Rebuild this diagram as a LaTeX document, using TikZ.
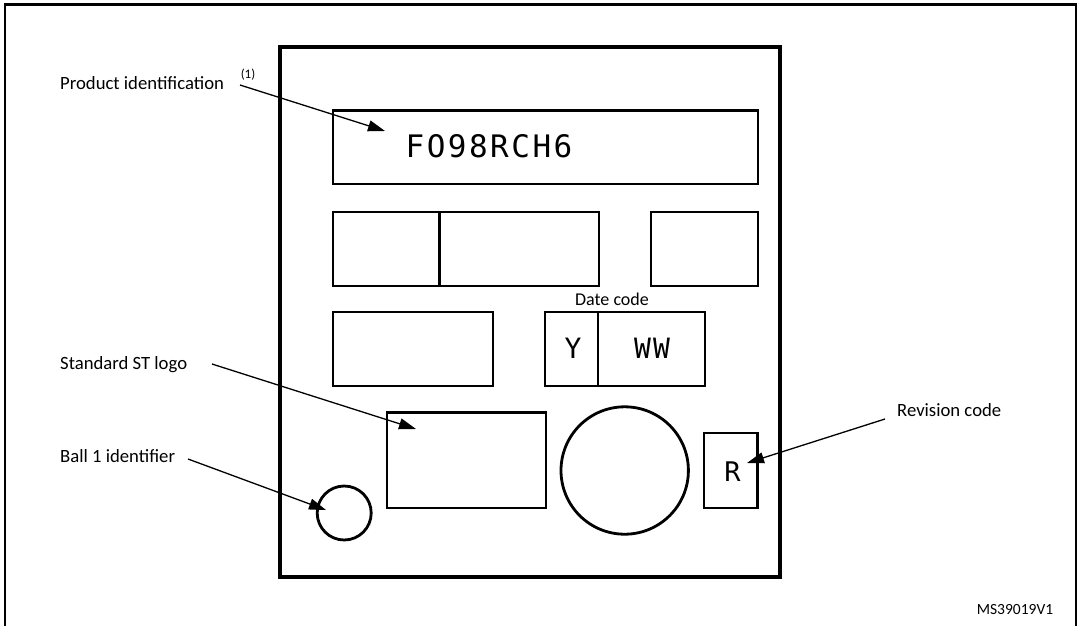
\documentclass[tikz,border=0pt]{standalone}
\usepackage{fontspec}
\setmainfont{Carlito}
\newfontfamily\markfont[LetterSpace=8]{DejaVu Sans Mono}
\usetikzlibrary{arrows.meta}
\begin{document}
\begin{tikzpicture}[x=1pt,y=-1pt,
  box/.style={draw, line width=2.8pt, inner sep=0pt},
  lbl/.style={font=\fontsize{18.7}{20}\selectfont, inner sep=0pt},
  markchar/.style={font=\markfont\fontsize{31}{33}\selectfont, inner sep=0pt},
  ptr/.style={-{Triangle[length=17pt,width=11pt]}, line width=1.3pt}
]
\useasboundingbox (0,0) rectangle (1080,625);
% outer frame
\draw[line width=2.4pt] (5,640) -- (5,4.5) -- (1076,4.5) -- (1076,640);
% package outline
\node[box, line width=3.4pt, minimum width=500pt, minimum height=530pt] (pkg) at (530,312) {};
% product identification
\node[box, minimum width=425pt, minimum height=73.5pt] (pid) at (545.5,147.25) {};
\node[markchar] (pidtext) at (489,146) {FO98RCH6};
% second row
\node[box, minimum width=106.5pt, minimum height=74pt] (r2a) at (386.25,249) {};
\node[box, minimum width=159.5pt, minimum height=74pt] (r2b) at (519.25,249) {};
\node[box, minimum width=107pt, minimum height=74pt] (r2c) at (704.5,249) {};
% third row
\node[box, minimum width=160pt, minimum height=74pt] (r3a) at (413,349) {};
\node[box, minimum width=53pt, minimum height=74pt] (dy) at (571.5,349) {};
\node[box, minimum width=107pt, minimum height=74pt] (dw) at (651.5,349) {};
\node[markchar, font=\markfont\fontsize{28}{30}\selectfont] at (573,348) {Y};
\node[markchar, font=\markfont\fontsize{28}{30}\selectfont] at (652,348) {WW};
\node[lbl, font=\fontsize{18}{20}\selectfont] (datecode) at (612,299) {Date code};
% bottom row
\node[box, minimum width=159pt, minimum height=95.5pt] (logo) at (466.5,460.25) {};
\node[box, circle, minimum size=127.4pt] (bigc) at (624.7,470.5) {};
\node[box, minimum width=53.5pt, minimum height=75pt] (rev) at (730.75,470.5) {};
\node[markchar, font=\markfont\fontsize{27}{29}\selectfont] (rchar) at (732.5,472) {R};
\node[box, circle, minimum size=54pt] (ball) at (344.2,513) {};
% labels
\node[lbl, anchor=west] (plabel) at (60,83) {Product identification};
\node[lbl, font=\fontsize{13}{15}\selectfont] (note) at (248,75) {(1)};
\node[lbl, anchor=west] (stlabel) at (60,365) {Standard ST logo};
\node[lbl, anchor=west] (balllabel) at (60,456) {Ball 1 identifier};
\node[lbl, anchor=west] (revlabel) at (897,410) {Revision code};
\node[lbl, font=\fontsize{15.5}{17}\selectfont] (msnum) at (1015,610) {MS39019V1};
% arrows
\coordinate (pstart) at (240,85);
\coordinate (ptip) at (385,131);
\coordinate (ststart) at (212,364);
\coordinate (sttip) at (416,429);
\coordinate (bstart) at (188,459);
\coordinate (btip) at (326,510);
\coordinate (rstart) at (885,419);
\coordinate (rtip) at (747,463);
\draw[ptr] (pstart) -- (ptip);
\draw[ptr] (ststart) -- (sttip);
\draw[ptr] (bstart) -- (btip);
\draw[ptr] (rstart) -- (rtip);
\end{tikzpicture}
\end{document}
